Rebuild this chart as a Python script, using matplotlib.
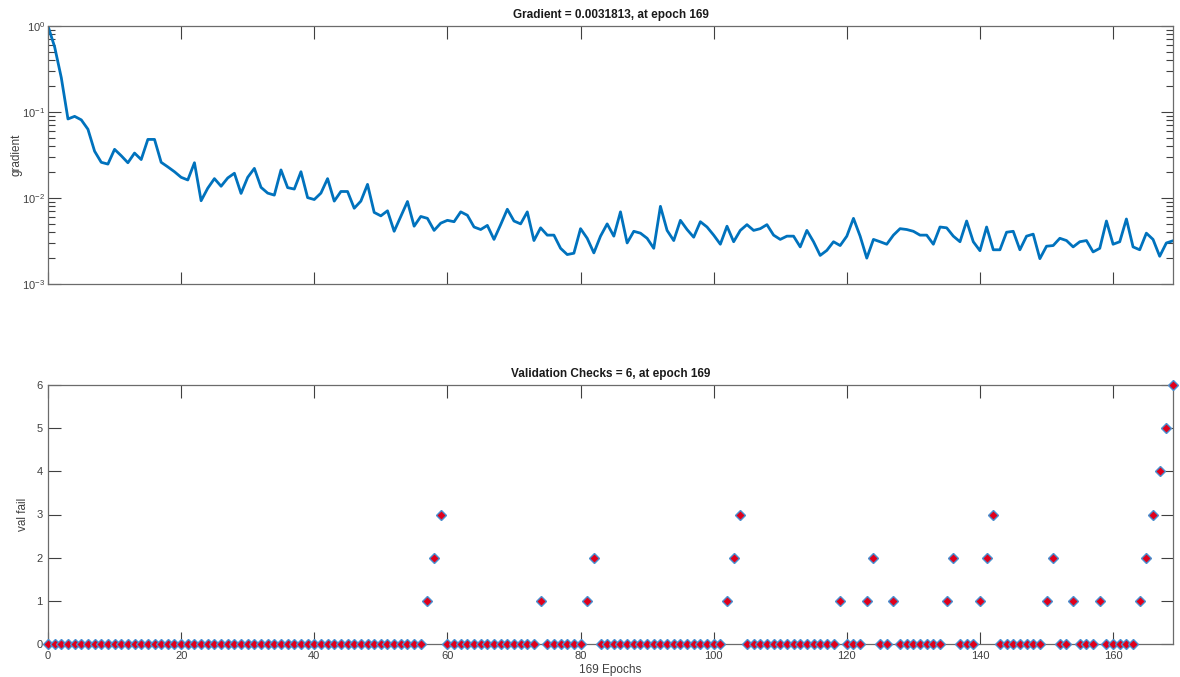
import matplotlib
matplotlib.use("Agg")
import matplotlib.pyplot as plt
import numpy as np
from matplotlib.ticker import LogLocator, NullFormatter

plt.rcParams['font.family'] = ['Liberation Sans', 'DejaVu Sans']
plt.rcParams['axes.unicode_minus'] = False

gradient = [
    1.0, 0.57, 0.25, 0.083, 0.089, 0.081, 0.063, 0.035, 0.026, 0.0248,
    0.0368, 0.031, 0.0257, 0.0333, 0.028, 0.048, 0.048, 0.026, 0.023, 0.0202,
    0.0174, 0.0162, 0.0257, 0.0093, 0.0130, 0.0168, 0.0137, 0.0171, 0.0194, 0.0113,
    0.0174, 0.0221, 0.0133, 0.0114, 0.0108, 0.0212, 0.0132, 0.0127, 0.0202, 0.0101,
    0.0096, 0.0114, 0.0168, 0.0092, 0.0119, 0.0119, 0.0076, 0.0092, 0.0144, 0.0068,
    0.0062, 0.0071, 0.0041, 0.0061, 0.0091, 0.0047, 0.0061, 0.0058, 0.0042, 0.0051,
    0.0055, 0.0053, 0.0069, 0.0063, 0.0046, 0.0043, 0.0048, 0.0033, 0.0049, 0.0074,
    0.0054, 0.0050, 0.0069, 0.0032, 0.0045, 0.0037, 0.0037, 0.0026, 0.0022, 0.00228,
    0.0044, 0.0034, 0.0023, 0.0036, 0.0050, 0.0036, 0.0069, 0.0030, 0.0041, 0.0039,
    0.0034, 0.0026, 0.0080, 0.0042, 0.0032, 0.0055, 0.0043, 0.0035, 0.0053, 0.0046,
    0.0037, 0.0029, 0.0047, 0.0031, 0.0042, 0.0049, 0.0042, 0.0044, 0.0049, 0.0037,
    0.0033, 0.0036, 0.0036, 0.0027, 0.0042, 0.0031, 0.00215, 0.00246, 0.0031, 0.0028,
    0.0036, 0.0058, 0.0036, 0.0020, 0.0033, 0.0031, 0.0029, 0.0037, 0.0044, 0.0043,
    0.0041, 0.0037, 0.0037, 0.0029, 0.0046, 0.0045, 0.0036, 0.0031, 0.0054, 0.0031,
    0.00244, 0.0046, 0.0025, 0.0025, 0.0040, 0.0041, 0.0025, 0.0036, 0.0038, 0.00197,
    0.00275, 0.0028, 0.0034, 0.0032, 0.0027, 0.0031, 0.0032, 0.00236, 0.0026, 0.0054,
    0.0029, 0.0031, 0.0057, 0.0027, 0.0025, 0.0039, 0.0033, 0.0021, 0.0030, 0.0031813,
]

# nonzero validation failures: epoch -> count
val_fail_nonzero = {
    57: 1, 58: 2, 59: 3, 74: 1, 81: 1, 82: 2, 102: 1, 103: 2, 104: 3,
    119: 1, 123: 1, 124: 2, 127: 1, 135: 1, 136: 2, 140: 1, 141: 2, 142: 3,
    150: 1, 151: 2, 154: 1, 158: 1, 164: 1, 165: 2, 166: 3, 167: 4, 168: 5, 169: 6,
}
n_epochs = 169
epochs = np.arange(n_epochs + 1)
val_fail = np.array([val_fail_nonzero.get(int(e), 0) for e in epochs])

x_ticks = [0, 20, 40, 60, 80, 100, 120, 140, 160]

W, H = 1180, 677
fig = plt.figure(figsize=(W / 100, H / 100), dpi=100)

ax_l, ax_r = 48, 1173
ax1 = fig.add_axes([ax_l / W, 1 - 284 / H, (ax_r - ax_l) / W, (284 - 26) / H])
ax2 = fig.add_axes([ax_l / W, 1 - 644 / H, (ax_r - ax_l) / W, (644 - 385) / H])

tickc = '#404040'
blue = '#0072BD'

for ax in (ax1, ax2):
    for s in ax.spines.values():
        s.set_color('#6b6b6b')
        s.set_linewidth(0.9)
    ax.tick_params(direction='in', top=True, right=True, colors='#404040',
                   labelcolor=tickc, labelsize=8, length=9, width=0.8, pad=2)
    ax.tick_params(which='minor', direction='in', top=True, right=True,
                   length=5, width=0.8, colors='#404040')

# top: gradient
ax1.semilogy(epochs, gradient, color=blue, linewidth=2)
ax1.set_xlim(0, n_epochs)
ax1.set_ylim(1e-3, 1e0)
ax1.set_xticks(x_ticks)
ax1.set_xticklabels([])
ax1.yaxis.set_major_locator(LogLocator(base=10, numticks=10))
ax1.yaxis.set_minor_locator(LogLocator(base=10, subs=np.arange(2, 10), numticks=20))
ax1.yaxis.set_minor_formatter(NullFormatter())
ax1.set_ylabel('gradient', fontsize=8.5, color=tickc, labelpad=0)
ax1.set_title('Gradient = 0.0031813, at epoch 169', fontsize=8.5,
              fontweight='bold', color='#1a1a1a', pad=6)

# bottom: validation checks
ax2.plot(epochs, val_fail, linestyle='none', marker='D', markersize=5.5,
         markerfacecolor='#E0001B', markeredgecolor='#4A90D0',
         markeredgewidth=1.0, clip_on=False, zorder=3)
ax2.set_xlim(0, n_epochs)
ax2.set_ylim(0, 6)
ax2.set_xticks(x_ticks)
ax2.set_yticks([0, 1, 2, 3, 4, 5, 6])
ax2.tick_params(axis='x', pad=5)
ax2.tick_params(axis='y', pad=4)
ax2.set_ylabel('val fail', fontsize=8.5, color=tickc, labelpad=5)
ax2.set_xlabel('169 Epochs', fontsize=8.5, color=tickc, labelpad=2)
ax2.set_title('Validation Checks = 6, at epoch 169', fontsize=8.5,
              fontweight='bold', color='#1a1a1a', pad=6)

fig.savefig('out.png', dpi=100, facecolor='white')
